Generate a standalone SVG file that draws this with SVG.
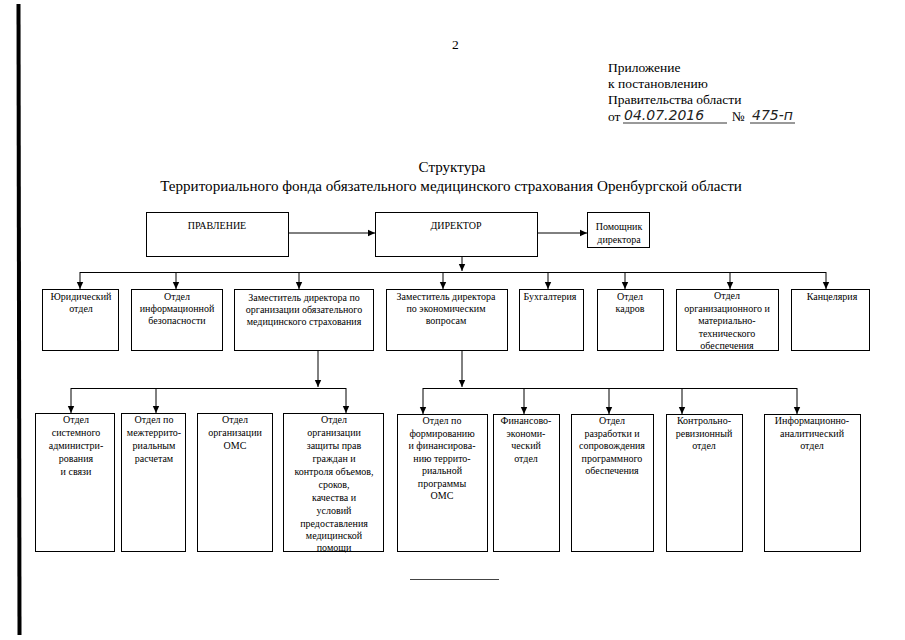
<svg xmlns="http://www.w3.org/2000/svg" width="905" height="640" viewBox="0 0 905 640">
<style>
.box{fill:#fff;stroke:#000;stroke-width:1}
.t{font-family:"Liberation Serif","Times New Roman",serif;font-size:10px;fill:#000;text-anchor:middle}
.h{font-family:"Liberation Serif","Times New Roman",serif;font-size:13.5px;fill:#000}
.ti{font-family:"Liberation Serif","Times New Roman",serif;font-size:15.1px;fill:#000;text-anchor:middle}
.hw{font-family:"DejaVu Sans","Liberation Sans",sans-serif;font-style:italic;font-size:14px;fill:#222}
.c{fill:none;stroke:#000;stroke-width:1}
</style>
<defs>
<marker id="a" markerUnits="userSpaceOnUse" markerWidth="8" markerHeight="8" refX="7" refY="4" orient="auto">
<path d="M0,0.8 L7,4 L0,7.2 Z" fill="#000"/>
</marker>
</defs>
<rect width="905" height="640" fill="#fff"/>
<path d="M16.5,4 L20.5,4 L21.5,635 L17.5,635 Z" fill="#000"/>

<text class="h" x="452" y="49">2</text>
<g id="header">
<text class="h" x="608" y="72">Приложение</text>
<text class="h" x="608" y="88">к постановлению</text>
<text class="h" x="608" y="104">Правительства области</text>
<text class="h" x="608" y="121">от</text>
<text class="hw" x="624" y="120">04.07.2016</text>
<line x1="623" y1="123" x2="727" y2="123" stroke="#000" stroke-width="0.8"/>
<text class="h" x="732" y="121">№</text>
<text class="hw" x="752" y="120">475-п</text>
<line x1="750" y1="123" x2="795" y2="123" stroke="#000" stroke-width="0.8"/>
</g>

<text class="ti" x="452" y="172">Структура</text>
<text class="ti" x="451" y="191">Территориального фонда обязательного медицинского страхования Оренбургской области</text>

<g id="connectors">
<line class="c" x1="289" y1="233" x2="375" y2="233" marker-end="url(#a)"/>
<line class="c" x1="538" y1="233" x2="587" y2="233" marker-end="url(#a)"/>
<line class="c" x1="462" y1="257" x2="462" y2="271" marker-end="url(#a)"/>
<line class="c" x1="80" y1="272.5" x2="826" y2="272.5"/>
<line class="c" x1="80" y1="272" x2="80" y2="289" marker-end="url(#a)"/>
<line class="c" x1="176" y1="272" x2="176" y2="289" marker-end="url(#a)"/>
<line class="c" x1="299" y1="272" x2="299" y2="289" marker-end="url(#a)"/>
<line class="c" x1="443" y1="272" x2="443" y2="289" marker-end="url(#a)"/>
<line class="c" x1="548" y1="272" x2="548" y2="289" marker-end="url(#a)"/>
<line class="c" x1="625" y1="272" x2="625" y2="289" marker-end="url(#a)"/>
<line class="c" x1="730" y1="272" x2="730" y2="289" marker-end="url(#a)"/>
<line class="c" x1="826" y1="272" x2="826" y2="289" marker-end="url(#a)"/>

<line class="c" x1="318" y1="351" x2="318" y2="387" marker-end="url(#a)"/>
<line class="c" x1="71" y1="388.5" x2="346" y2="388.5"/>
<line class="c" x1="71" y1="388" x2="71" y2="413" marker-end="url(#a)"/>
<line class="c" x1="156" y1="388" x2="156" y2="413" marker-end="url(#a)"/>
<line class="c" x1="346" y1="388" x2="346" y2="413" marker-end="url(#a)"/>

<line class="c" x1="462" y1="351" x2="462" y2="387" marker-end="url(#a)"/>
<line class="c" x1="423" y1="388.5" x2="797" y2="388.5"/>
<line class="c" x1="423" y1="388" x2="423" y2="414" marker-end="url(#a)"/>
<line class="c" x1="524" y1="388" x2="524" y2="414" marker-end="url(#a)"/>
<line class="c" x1="609" y1="388" x2="609" y2="414" marker-end="url(#a)"/>
<line class="c" x1="682" y1="388" x2="682" y2="414" marker-end="url(#a)"/>
<line class="c" x1="797" y1="388" x2="797" y2="414" marker-end="url(#a)"/>
</g>

<g id="pravlenie"><rect class="box" x="146.5" y="212.5" width="142" height="44"/><text class="t" x="217" y="229">ПРАВЛЕНИЕ</text></g>
<g id="director"><rect class="box" x="375.5" y="212.5" width="162" height="44"/><text class="t" x="456" y="229">ДИРЕКТОР</text></g>
<g id="pomoshnik"><rect class="box" x="587.5" y="212.5" width="62" height="35"/><text class="t" x="619" y="230">Помощник</text><text class="t" x="619" y="243">директора</text></g>

<g id="yur"><rect class="box" x="42.5" y="289.5" width="76" height="61"/><text class="t" x="81" y="300">Юридический</text><text class="t" x="81" y="312">отдел</text></g>
<g id="infobez"><rect class="box" x="131.5" y="289.5" width="91" height="61"/><text class="t" x="177" y="300">Отдел</text><text class="t" x="177" y="312">информационной</text><text class="t" x="177" y="324">безопасности</text></g>
<g id="zam1"><rect class="box" x="234.5" y="289.5" width="139" height="61"/><text class="t" x="304" y="301">Заместитель директора по</text><text class="t" x="304" y="313">организации обязательного</text><text class="t" x="304" y="325">медицинского страхования</text></g>
<g id="zam2"><rect class="box" x="386.5" y="289.5" width="121" height="61"/><text class="t" x="446" y="300">Заместитель директора</text><text class="t" x="446" y="312">по экономическим</text><text class="t" x="446" y="324">вопросам</text></g>
<g id="buh"><rect class="box" x="519.5" y="289.5" width="64" height="61"/><text class="t" x="550" y="300">Бухгалтерия</text></g>
<g id="kadry"><rect class="box" x="597.5" y="289.5" width="66" height="61"/><text class="t" x="630" y="300">Отдел</text><text class="t" x="630" y="312">кадров</text></g>
<g id="org"><rect class="box" x="676.5" y="289.5" width="102" height="61"/><text class="t" x="727" y="299">Отдел</text><text class="t" x="727" y="311.5">организационного и</text><text class="t" x="727" y="324">материально-</text><text class="t" x="727" y="336.5">технического</text><text class="t" x="727" y="349">обеспечения</text></g>
<g id="kanc"><rect class="box" x="791.5" y="289.5" width="78" height="61"/><text class="t" x="832" y="300">Канцелярия</text></g>

<g id="sysadm"><rect class="box" x="35.5" y="413.5" width="79" height="138"/><text class="t" x="76" y="423">Отдел</text><text class="t" x="76" y="436">системного</text><text class="t" x="76" y="449">администри-</text><text class="t" x="76" y="462">рования</text><text class="t" x="76" y="475">и связи</text></g>
<g id="mezhter"><rect class="box" x="121.5" y="413.5" width="64" height="138"/><text class="t" x="154" y="423">Отдел по</text><text class="t" x="154" y="436">межтеррито-</text><text class="t" x="154" y="449">риальным</text><text class="t" x="154" y="462">расчетам</text></g>
<g id="orgoms"><rect class="box" x="197.5" y="413.5" width="75" height="138"/><text class="t" x="235" y="423">Отдел</text><text class="t" x="235" y="436">организации</text><text class="t" x="235" y="449">ОМС</text></g>
<g id="zashita"><rect class="box" x="283.5" y="413.5" width="100" height="138"/><text class="t" x="334" y="423">Отдел</text><text class="t" x="334" y="436">организации</text><text class="t" x="334" y="449">защиты прав</text><text class="t" x="334" y="462">граждан и</text><text class="t" x="334" y="475">контроля объемов,</text><text class="t" x="334" y="488">сроков,</text><text class="t" x="334" y="501">качества и</text><text class="t" x="334" y="514">условий</text><text class="t" x="334" y="526.5">предоставления</text><text class="t" x="334" y="539">медицинской</text><text class="t" x="334" y="551">помощи</text></g>

<g id="formir"><rect class="box" x="397.5" y="414.5" width="90" height="137"/><text class="t" x="442" y="424">Отдел по</text><text class="t" x="442" y="436.5">формированию</text><text class="t" x="442" y="449">и финансирова-</text><text class="t" x="442" y="461.5">нию террито-</text><text class="t" x="442" y="474">риальной</text><text class="t" x="442" y="486.5">программы</text><text class="t" x="442" y="499">ОМС</text></g>
<g id="finek"><rect class="box" x="493.5" y="414.5" width="66" height="137"/><text class="t" x="526" y="424">Финансово-</text><text class="t" x="526" y="436.5">экономи-</text><text class="t" x="526" y="449">ческий</text><text class="t" x="526" y="461.5">отдел</text></g>
<g id="razrab"><rect class="box" x="571.5" y="414.5" width="82" height="137"/><text class="t" x="612" y="424">Отдел</text><text class="t" x="612" y="436.5">разработки и</text><text class="t" x="612" y="449">сопровождения</text><text class="t" x="612" y="461.5">программного</text><text class="t" x="612" y="474">обеспечения</text></g>
<g id="krevo"><rect class="box" x="666.5" y="414.5" width="76" height="137"/><text class="t" x="704" y="424">Контрольно-</text><text class="t" x="704" y="436.5">ревизионный</text><text class="t" x="704" y="449">отдел</text></g>
<g id="infan"><rect class="box" x="764.5" y="414.5" width="96" height="137"/><text class="t" x="812" y="424">Информационно-</text><text class="t" x="812" y="436.5">аналитический</text><text class="t" x="812" y="449">отдел</text></g>

<line x1="410" y1="579.5" x2="499" y2="579.5" stroke="#444" stroke-width="1"/>
</svg>
